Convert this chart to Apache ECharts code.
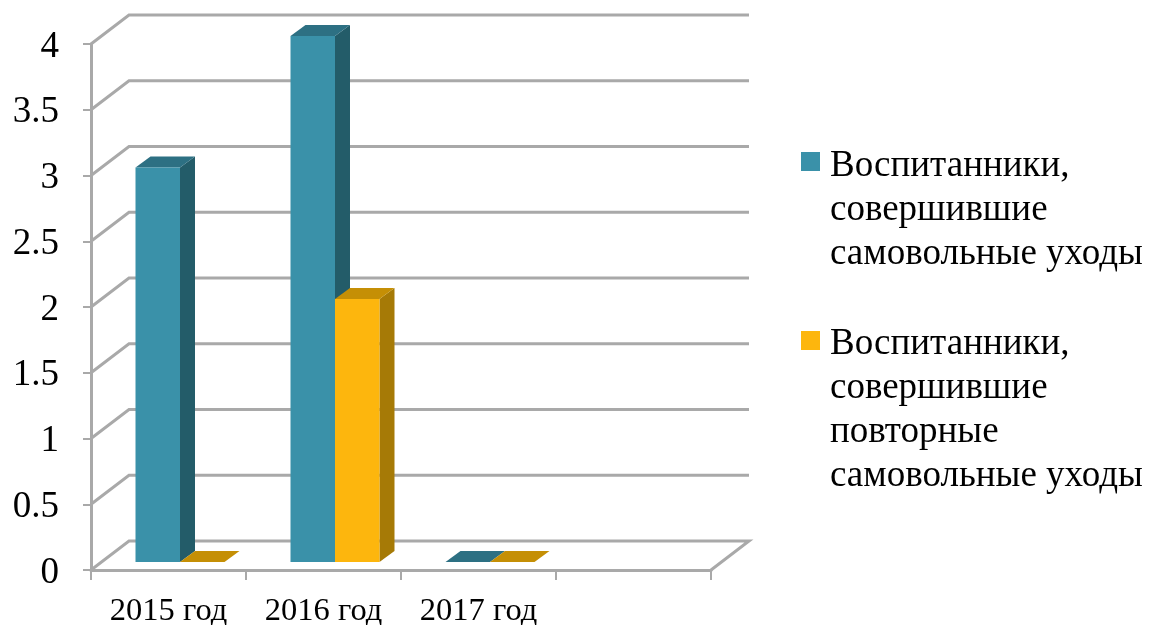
<!DOCTYPE html>
<html>
<head>
<meta charset="utf-8">
<style>
  html, body { margin: 0; padding: 0; background: #fff; }
  #chart { width: 1150px; height: 625px; }
</style>
<script src="https://cdn.jsdelivr.net/npm/echarts@6/dist/echarts.min.js"></script>
</head>
<body>
<div id="chart"></div>
<script>
const categories = ['2015 год', '2016 год', '2017 год', ''];
const runaways = [3, 4, 0];
const repeatRunaways = [0, 2, 0];
const tick_values = [0, 0.5, 1, 1.5, 2, 2.5, 3, 3.5, 4];
const legend_runaways = ['Воспитанники,', 'совершившие', 'самовольные уходы'];
const legend_repeat = ['Воспитанники,', 'совершившие', 'повторные', 'самовольные уходы'];

const FONT = '"Liberation Serif", serif';
const GRID_COLOR = '#a9a9a9';
// depth of the walls and of the bars, in pixels
const WALL_DX = 38, WALL_DY = -29;
const BAR_DX = 15, BAR_DY = -11;
const BAR_W = 44.5, BAR_LIFT = 8;

const blue = {front: '#3a91a9', side: '#235c69', top: '#2d7083'};
const orange = {front: '#fdb60d', side: '#a67a06', top: '#c58f05'};

function poly(points, color) {
  return {type: 'polygon', shape: {points: points}, style: {fill: color}};
}

// draws one pseudo-3d bar, offset is the left edge relative to the category centre
function bar_item(offset, colors) {
  return function (params, api) {
    const base = api.coord([api.value(0), 0]);
    const top = api.coord([api.value(0), api.value(1)]);
    const x0 = base[0] + offset, x1 = x0 + BAR_W;
    const y0 = base[1] - BAR_LIFT, y1 = top[1] - BAR_LIFT;
    return {
      type: 'group',
      children: [
        poly([[x1, y0], [x1 + BAR_DX, y0 + BAR_DY], [x1 + BAR_DX, y1 + BAR_DY], [x1, y1]], colors.side),
        poly([[x0, y1], [x1, y1], [x1 + BAR_DX, y1 + BAR_DY], [x0 + BAR_DX, y1 + BAR_DY]], colors.top),
        poly([[x0, y0], [x1, y0], [x1, y1], [x0, y1]], colors.front)
      ]
    };
  };
}

// side and back wall lines for one value
function wall_item(params, api) {
  const p = api.coord([0, api.value(0)]);
  const left = p[0] - api.size([1, 0])[0] / 2;
  const right = left + api.size([1, 0])[0] * categories.length;
  const points = [[left, p[1]], [left + WALL_DX, p[1] + WALL_DY], [right + WALL_DX, p[1] + WALL_DY]];
  if (api.value(0) === 0) {
    points.push([right, p[1]]);
  }
  return {
    type: 'polyline',
    shape: {points: points},
    style: {stroke: GRID_COLOR, lineWidth: 3, fill: null}
  };
}

function legend_block(lines, color, top, text_top) {
  return [
    {type: 'rect', left: 801, top: top, shape: {width: 19, height: 19}, style: {fill: color}},
    {
      type: 'text', left: 830, top: text_top,
      style: {text: lines.join('\n'), font: '37px ' + FONT, fill: '#000', lineHeight: 44}
    }
  ];
}

const chart = echarts.init(document.getElementById('chart'));
chart.setOption({
  animation: false,
  grid: {left: 91, right: 439, top: 44, bottom: 55, containLabel: false, outerBoundsMode: 'none'},
  tooltip: {show: false},
  xAxis: {
    type: 'category',
    data: categories,
    axisLine: {lineStyle: {color: GRID_COLOR, width: 3}},
    axisTick: {show: true, length: 10, lineStyle: {color: GRID_COLOR, width: 2}},
    axisLabel: {interval: 0, color: '#000', fontFamily: FONT, fontSize: 32.5, margin: 25},
    splitLine: {show: false}
  },
  yAxis: {
    type: 'value',
    min: 0,
    max: 4,
    interval: 0.5,
    axisLine: {show: true, lineStyle: {color: GRID_COLOR, width: 3}},
    axisTick: {show: true, length: 8, lineStyle: {color: GRID_COLOR, width: 2}},
    // line box sits just under the tick, this moves the digits down onto it
    axisLabel: {color: '#000', fontFamily: FONT, fontSize: 37, margin: 32, verticalAlign: 'top', lineHeight: 6},
    splitLine: {show: false}
  },
  series: [
    {
      type: 'custom',
      name: 'walls',
      silent: true,
      clip: false,
      z: 1,
      renderItem: wall_item,
      encode: {y: 0},
      data: tick_values.map(v => [v])
    },
    {
      type: 'custom',
      name: legend_runaways.join(' '),
      clip: false,
      z: 2,
      renderItem: bar_item(-33, blue),
      encode: {x: 0, y: 1},
      data: runaways.map((v, i) => [i, v])
    },
    {
      type: 'custom',
      name: legend_repeat.join(' '),
      clip: false,
      z: 3,
      renderItem: bar_item(-33 + BAR_W, orange),
      encode: {x: 0, y: 1},
      data: repeatRunaways.map((v, i) => [i, v])
    }
  ],
  graphic: {
    elements: legend_block(legend_runaways, blue.front, 152, 144)
      .concat(legend_block(legend_repeat, orange.front, 331, 322))
  }
});
</script>
</body>
</html>
